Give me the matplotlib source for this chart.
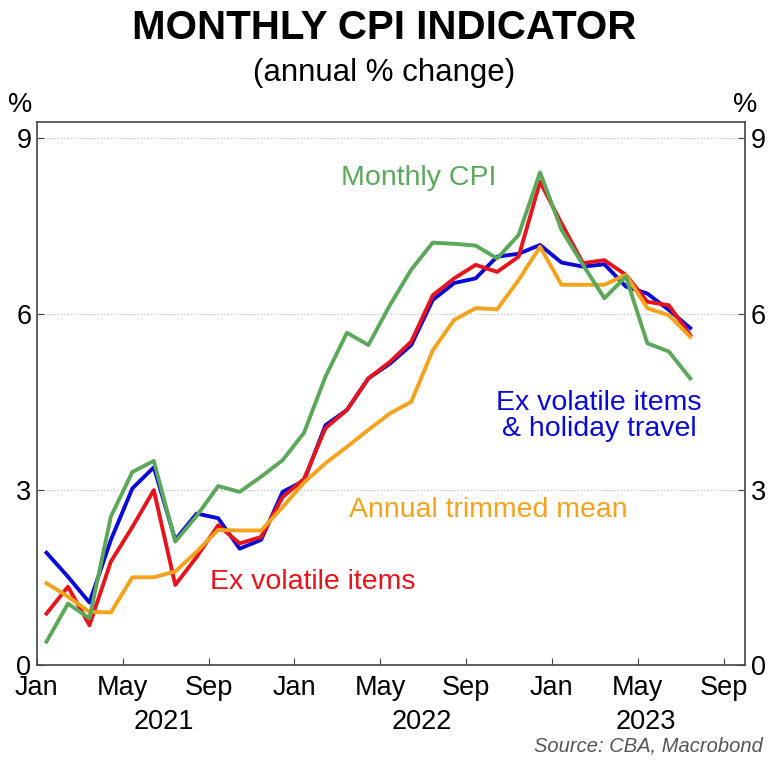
import numpy as np
import matplotlib.pyplot as plt

# months from Jan 2021 to Jul 2023
months = np.arange(31)

monthly_cpi = [0.40, 1.05, 0.80, 2.54, 3.30, 3.49, 2.11, 2.55, 3.06, 2.96, 3.22, 3.50,
               3.97, 4.93, 5.68, 5.47, 6.15, 6.76, 7.22, 7.20, 7.17, 6.95, 7.35, 8.42,
               7.44, 6.84, 6.27, 6.64, 5.50, 5.36, 4.90]
ex_volatile = [0.88, 1.34, 0.68, 1.77, 2.36, 2.99, 1.37, 1.85, 2.39, 2.08, 2.19, 2.87,
               3.18, 4.05, 4.36, 4.90, 5.18, 5.53, 6.32, 6.61, 6.84, 6.72, 6.98, 8.26,
               7.55, 6.87, 6.92, 6.67, 6.21, 6.15, 5.64]
ex_volatile_travel = [1.92, 1.51, 1.07, 2.14, 3.02, 3.38, 2.14, 2.59, 2.51, 1.99, 2.14, 2.96,
                      3.15, 4.10, 4.36, 4.90, 5.15, 5.47, 6.24, 6.53, 6.61, 6.98, 7.03, 7.18,
                      6.88, 6.81, 6.85, 6.47, 6.35, 6.07, 5.76]
trimmed_mean = [1.40, 1.17, 0.91, 0.90, 1.50, 1.50, 1.60, 1.94, 2.31, 2.30, 2.30, 2.70,
                3.12, 3.45, 3.73, 4.02, 4.30, 4.50, 5.38, 5.90, 6.10, 6.08, 6.58, 7.15,
                6.50, 6.50, 6.50, 6.67, 6.10, 5.98, 5.61]

tick_pos = [0, 4, 8, 12, 16, 20, 24, 28, 32]
tick_labels = ['Jan', 'May', 'Sep', 'Jan', 'May', 'Sep', 'Jan', 'May', 'Sep']
years = ['2021', '2022', '2023']
year_pos = [5.9, 17.95, 28.4]

green = '#5ba85b'
red = '#e8141c'
blue = '#0a0ad8'
orange = '#f5a31c'

plt.rcParams['font.family'] = ['Liberation Sans', 'DejaVu Sans']

fig = plt.figure(figsize=(7.68, 7.68), dpi=100)
ax = fig.add_axes([0.048, 0.134, 0.922, 0.707])

x = months + 0.45
lw = 2.8
ax.plot(x, ex_volatile_travel, color=blue, lw=lw)
ax.plot(x, ex_volatile, color=red, lw=lw)
ax.plot(x, trimmed_mean, color=orange, lw=lw)
ax.plot(x, monthly_cpi, color=green, lw=lw)

ax.set_xlim(0, 33)
ax.set_ylim(0, 9.28)
ax.set_yticks([0, 3, 6, 9])
ax.set_xticks(tick_pos)
ax.set_xticklabels(tick_labels)
ax.tick_params(axis='x', direction='in', length=5, labelsize=19.5, pad=7, color='#444444')
ax.tick_params(axis='y', direction='in', length=5, labelsize=19.5, left=True, right=True,
               labelleft=True, labelright=True, pad=4, color='#444444')
for s in ax.spines.values():
    s.set_color('#444444')
    s.set_linewidth(1.2)
for yv in [3, 6, 9]:
    ax.axhline(yv, color='#bbbbbb', lw=0.8, ls=(0, (1, 2)), zorder=0)

for yr, p in zip(years, year_pos):
    ax.text(p, -0.97, yr, ha='center', va='center', fontsize=19.5)

ax.text(-0.8, 9.57, '%', ha='center', va='center', fontsize=19.5)
ax.text(33.0, 9.57, '%', ha='center', va='center', fontsize=19.5)

ax.text(14.19, 8.32, 'Monthly CPI', color=green, fontsize=20.5, ha='left', va='center')
ax.text(26.2, 4.26, 'Ex volatile items\n& holiday travel', color=blue, fontsize=20.5,
        ha='center', va='center', linespacing=1.0)
ax.text(14.56, 2.65, 'Annual trimmed mean', color=orange, fontsize=20.5, ha='left', va='center')
ax.text(8.05, 1.42, 'Ex volatile items', color=red, fontsize=20.5, ha='left', va='center')

fig.text(0.5, 0.964, 'MONTHLY CPI INDICATOR', ha='center', va='center', fontsize=29,
         fontweight='bold')
fig.text(0.5, 0.905, '(annual % change)', ha='center', va='center', fontsize=22.5)
fig.text(0.993, 0.028, 'Source: CBA, Macrobond', ha='right', va='center', fontsize=14.5,
         style='italic', color='#555555')

fig.savefig('out.png', dpi=100)
